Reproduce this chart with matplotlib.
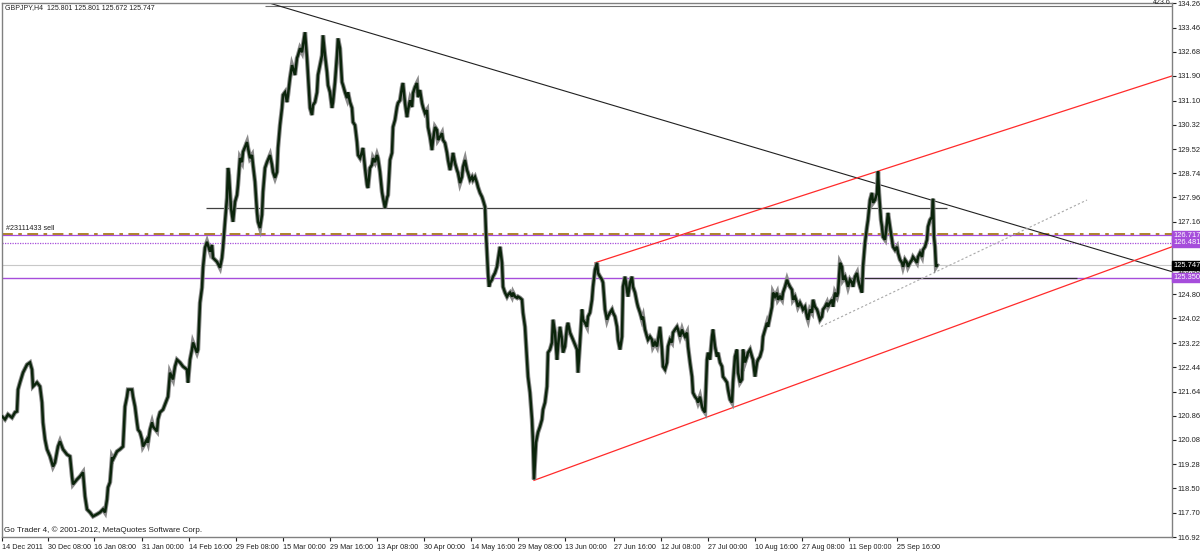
import matplotlib
matplotlib.use("Agg")
import matplotlib.pyplot as plt
import matplotlib.transforms as mtransforms

plt.rcParams['font.family'] = ['Liberation Sans', 'DejaVu Sans']

# ---- price path (time slot, price) ----
bar_x = [
    2, 5, 8, 12, 15, 17, 18, 20, 23, 27, 30, 32, 33, 37, 40, 42, 43, 45, 47, 50,
    53, 55, 58, 60, 63, 67, 70, 72, 73, 77, 80, 83, 85, 87, 90, 93, 97, 100, 103, 105,
    107, 108, 110, 112, 113, 117, 120, 123, 125, 127, 128, 132, 133, 135, 137, 138, 140, 142, 143, 147,
    148, 150, 152, 153, 157, 158, 160, 163, 167, 168, 170, 173, 175, 177, 180, 183, 187, 188, 190, 192,
    193, 197, 198, 200,
    202, 203, 205, 207, 210, 212, 213, 217, 220, 222, 223, 225, 227, 228, 229, 231, 233, 235, 237, 238,
    240, 242, 243, 247, 248, 250, 252, 253, 255, 257, 258, 260, 262, 263, 265, 267, 270, 272, 273, 275,
    277, 278, 280, 282, 283, 285, 287, 288, 290, 292, 293, 295, 297, 298, 300, 302, 303, 305, 307, 308,
    310, 312, 313, 315, 317, 318, 320, 322, 323, 325, 327, 328, 330, 332, 333, 335, 337, 338, 340, 342,
    343, 345, 347, 348, 350, 352, 353, 355, 357, 358, 360, 362, 363, 365, 367, 368, 370, 372, 373, 375,
    377, 378, 380, 382, 383, 385, 387, 388,
    390, 392, 393, 395, 397, 398, 400, 402, 403, 405, 407, 408, 410, 412, 413, 415, 417, 418, 420, 422,
    423, 425, 427, 428, 430, 432, 433, 435, 437, 438, 440, 442, 443, 445, 447, 448, 450, 452, 453, 455,
    457, 458, 460, 462, 463, 465, 467, 468, 470, 472, 473, 475, 477, 478, 480, 482, 483, 485, 486, 487,
    488, 489, 490, 492, 493, 495, 497, 498, 500, 502, 503, 505, 507, 508, 510, 512, 513, 515, 517, 518,
    520, 522, 523, 525, 527, 528, 530, 532, 533, 534, 536, 538, 540, 542, 543, 545, 547, 548, 550, 552,
    553, 555, 557, 558, 560, 562, 563, 565, 567, 568, 570,
    573, 577, 578, 580, 582, 583, 585, 587, 588, 590, 592, 593, 595, 597, 598, 600, 602, 603, 605, 607,
    608, 610, 612, 613, 615, 617, 618, 620, 622, 623, 625, 627, 628, 630, 632, 633, 635, 637, 638, 640,
    642, 643, 645, 647, 648, 650, 652, 653, 655, 657, 658, 660, 662, 663, 665, 667, 668, 670, 672, 673,
    675, 677, 678, 680, 682, 683, 685, 687, 688, 690, 692, 693, 695, 697, 698, 700, 702, 703, 705, 707,
    708, 710, 712, 713, 715, 717, 718, 720, 722, 723, 725, 727, 728, 730, 732, 733, 735, 737, 738, 740,
    742, 743, 745, 747, 748, 750, 752, 753, 755, 757, 758, 760, 762, 763, 765, 767, 768,
    770, 772, 773, 775, 777, 778, 780, 782, 783, 785, 787, 788, 790, 792, 793, 795, 797, 798, 800, 802,
    803, 805, 807, 808, 810, 812, 813, 815, 817, 818, 820, 822, 823, 825, 827, 828, 830, 832, 833, 835,
    837, 838, 840, 842, 843, 845, 847, 848, 850, 852, 853, 855, 857, 858, 860, 862, 863, 865, 867, 868,
    870, 872, 873, 875, 877, 878, 879, 881, 882, 883, 885, 887, 888, 890, 892, 893, 895, 897, 898, 900,
    902, 903, 905, 907, 908, 910, 912, 913, 915, 917, 918, 920, 922, 923, 925, 927, 928, 930, 932, 933,
    934, 935, 936, 937,
]
price = [
    120.84, 120.74, 120.90, 120.80, 120.97, 121.00, 121.71, 121.94, 122.26, 122.52, 122.59, 122.36, 121.81, 121.94, 121.81, 121.29, 120.64, 120.09, 119.77, 119.54,
    119.21, 119.34, 119.86, 120.03, 119.77, 119.60, 119.54, 118.89, 118.63, 118.79, 118.89, 119.02, 118.24, 117.82, 117.72, 117.59, 117.66, 117.72, 117.82, 117.72,
    118.14, 118.53, 118.70, 119.51, 119.44, 119.70, 119.77, 119.86, 121.16, 121.48, 121.71, 121.71, 121.48, 121.16, 120.64, 120.41, 120.32, 120.09, 119.86, 120.09,
    119.99, 120.41, 120.64, 120.51, 120.35, 120.74, 120.97, 121.06, 121.39, 121.48, 122.26, 122.04, 122.46, 122.68, 122.59, 122.46, 122.36, 121.94, 122.68, 123.01,
    123.24, 122.91, 123.01, 124.53,
    125.02, 125.67, 126.32, 126.51, 126.19, 126.41, 125.99, 125.86, 125.67, 125.99, 126.32, 127.16, 127.94, 128.91, 128.68, 127.61, 127.16, 127.81, 128.03, 128.36,
    129.23, 129.10, 129.43, 129.75, 129.56, 129.23, 129.33, 129.01, 128.46, 127.48, 127.16, 126.96, 127.39, 128.13, 128.91, 129.10, 129.33, 129.01, 128.78, 128.59,
    128.78, 129.56, 130.30, 130.86, 131.28, 131.37, 131.05, 131.28, 131.83, 132.25, 132.15, 131.93, 132.48, 132.57, 132.80, 132.67, 132.90, 133.32, 132.48, 131.93,
    130.86, 130.63, 130.95, 131.05, 131.37, 131.93, 132.25, 132.57, 133.22, 132.57, 132.02, 131.60, 131.37, 130.86, 131.05, 131.70, 132.57, 133.12, 132.80, 131.70,
    131.60, 131.37, 131.18, 131.37, 131.05, 130.86, 130.40, 130.30, 129.75, 129.33, 129.23, 129.43, 129.56, 128.91, 128.36, 128.26, 128.91, 129.01, 129.23, 129.10,
    129.33, 129.23, 128.78, 128.13, 127.94, 127.61, 127.94, 128.03,
    129.17, 129.40, 130.24, 130.47, 130.89, 131.02, 131.11, 131.54, 131.67, 131.02, 130.56, 130.79, 131.11, 130.89, 131.34, 131.54, 131.67, 131.21, 131.44, 131.02,
    130.89, 130.69, 130.79, 130.24, 129.92, 129.49, 129.82, 130.24, 130.14, 129.82, 129.92, 130.04, 129.82, 129.72, 129.40, 129.17, 128.84, 129.17, 129.40, 129.07,
    128.84, 128.75, 128.42, 128.62, 128.94, 129.17, 128.84, 128.75, 128.52, 128.62, 128.52, 128.62, 128.42, 128.29, 128.10, 127.97, 127.87, 127.65, 126.80, 126.15,
    125.50, 125.05, 125.18, 125.28, 125.38, 125.50, 125.70, 125.93, 126.35, 125.83, 125.05, 124.86, 124.73, 124.79, 124.86, 124.73, 124.86, 124.73, 124.69, 124.73,
    124.69, 124.63, 124.21, 123.75, 122.68, 122.13, 121.61, 120.74, 119.99, 118.79, 119.99, 120.32, 120.51, 120.74, 121.06, 121.29, 121.81, 122.91, 123.01, 123.24,
    123.98, 123.56, 122.68, 123.11, 123.75, 123.33, 122.91, 123.11, 123.75, 123.88, 123.56,
    123.33, 123.01, 122.26, 123.24, 124.31, 123.98, 123.88, 123.75, 124.08, 124.21, 124.63, 125.05, 125.60, 125.83, 125.50, 125.38, 125.28, 125.18, 124.31, 123.98,
    124.08, 124.21, 124.31, 124.21, 124.08, 123.75, 123.33, 123.01, 123.43, 125.05, 125.38, 124.95, 124.73, 125.18, 125.38, 125.05, 124.86, 124.53, 124.40, 124.21,
    123.98, 124.08, 123.66, 123.43, 123.33, 123.43, 123.33, 123.11, 123.24, 123.11, 123.33, 123.75, 123.01, 122.46, 122.36, 122.59, 123.11, 123.33, 123.24, 123.56,
    123.66, 123.75, 123.66, 123.43, 123.66, 123.56, 123.43, 123.56, 123.11, 122.59, 122.13, 121.61, 121.48, 121.39, 121.29, 121.48, 121.16, 121.06, 120.97, 122.68,
    122.91, 122.68, 123.43, 123.66, 123.11, 122.78, 122.91, 122.59, 122.46, 122.13, 122.04, 121.94, 121.71, 121.39, 121.29, 121.94, 122.78, 123.01, 122.26, 121.94,
    122.04, 123.01, 122.59, 122.78, 122.91, 123.01, 122.78, 122.68, 122.13, 122.59, 122.68, 122.78, 123.01, 123.43, 123.66, 123.88, 123.75,
    124.08, 124.40, 124.86, 124.73, 124.86, 124.63, 124.73, 124.63, 124.86, 125.05, 125.28, 125.18, 125.05, 124.95, 124.63, 124.73, 124.53, 124.40, 124.53, 124.40,
    124.31, 124.40, 124.08, 123.98, 124.31, 124.21, 124.63, 124.40, 124.31, 124.21, 123.98, 124.08, 124.31, 124.40, 124.53, 124.40, 124.53, 124.63, 124.40, 124.86,
    124.73, 124.86, 125.83, 125.70, 125.28, 125.38, 125.18, 125.05, 125.28, 125.18, 125.05, 125.38, 125.50, 125.28, 125.05, 124.86, 125.70, 126.48, 127.00, 127.22,
    127.87, 128.10, 127.78, 127.87, 128.10, 128.80, 128.10, 127.22, 127.00, 126.67, 126.58, 127.13, 127.45, 127.00, 126.58, 126.35, 126.25, 126.35, 126.15, 125.93,
    125.83, 125.70, 125.93, 125.83, 125.70, 125.83, 125.93, 126.02, 125.93, 125.83, 126.02, 126.15, 126.02, 126.25, 126.35, 126.58, 127.00, 127.22, 127.32, 127.91,
    126.67, 126.35, 125.70, 125.75,
]

# price scale on the right
y_ticks = [134.260, 133.460, 132.680, 131.900, 131.100, 130.320, 129.520, 128.740, 127.960,
           127.160, 126.380, 125.580, 124.800, 124.020, 123.220, 122.440, 121.640, 120.860,
           120.080, 119.280, 118.500, 117.700, 116.920]

# time scale
x_tick_pos = [2, 48, 94, 142, 189, 236, 283, 330, 377, 424, 471, 518, 565,
              614, 661, 708, 755, 802, 849, 897]
x_tick_labels = ["14 Dec 2011", "30 Dec 08:00", "16 Jan 08:00", "31 Jan 00:00", "14 Feb 16:00",
                 "29 Feb 08:00", "15 Mar 00:00", "29 Mar 16:00", "13 Apr 08:00", "30 Apr 00:00",
                 "14 May 16:00", "29 May 08:00", "13 Jun 00:00", "27 Jun 16:00", "12 Jul 08:00",
                 "27 Jul 00:00", "10 Aug 16:00", "27 Aug 08:00", "11 Sep 00:00", "25 Sep 16:00"]

# drawn objects: (x0, p0, x1, p1)
trend_down = (265, 134.31, 1172, 125.54)
channel_up = (595, 125.83, 1172, 131.90)
channel_low = (534, 118.76, 1172, 126.35)
support_dash = (821, 123.76, 1087, 127.87)
resist_hline = (206, 127.61, 947)
base_hline = (840, 125.35, 1077)
fibo_top = (265, 134.17, 1172)

order_price = 126.75
level_a = 126.717
level_b = 126.481
bid = 125.747
level_c = 125.350

W, H = 1200, 553
fig = plt.figure(figsize=(W / 100, H / 100), dpi=100, facecolor='white')
ax = fig.add_axes([2 / W, 1 - 537 / H, 1170 / W, 534 / H])
ax.set_xlim(2, 1172)
ax.set_ylim(116.93, 134.27)

purple = '#a64ddb'

# horizontal levels
ax.axhline(bid, color='#c8c8c8', lw=0.8, zorder=1)
ax.axhline(level_a, color=purple, lw=0.9, zorder=1)
ax.axhline(level_b, color=purple, lw=0.9, ls=(0, (1, 1)), zorder=1)
ax.axhline(level_c, color=purple, lw=1.0, zorder=1)
ax.axhline(order_price, color='#a87a1c', lw=1.3, ls=(0, (6, 3, 2, 3)), zorder=1)
ax.hlines(resist_hline[1], resist_hline[0], resist_hline[2], color='#404040', lw=0.9, zorder=1)
ax.hlines(base_hline[1], base_hline[0], base_hline[2], color='#303030', lw=0.9, zorder=1)
ax.hlines(fibo_top[1], fibo_top[0], fibo_top[2], color='#707070', lw=0.8, zorder=1)

# trend lines
ax.plot(trend_down[::2], trend_down[1::2], color='#202020', lw=0.8, zorder=2)
ax.plot(channel_up[::2], channel_up[1::2], color='#ff2a2a', lw=0.9, zorder=2)
ax.plot(channel_low[::2], channel_low[1::2], color='#ff2a2a', lw=0.9, zorder=2)
ax.plot(support_dash[::2], support_dash[1::2], color='#a8a8a8', lw=0.8, ls=(0, (2, 2)), zorder=2)

# price bars
ax.plot(bar_x, price, color='#8c8c8c', lw=3.2, solid_joinstyle='miter', zorder=3)
ax.plot(bar_x, price, color='#0b240b', lw=1.8, solid_joinstyle='miter', zorder=4)

# axes styling
for side in ['left', 'top', 'bottom', 'right']:
    ax.spines[side].set_color('#808080')
    ax.spines[side].set_linewidth(1.0)
ax.yaxis.tick_right()
ax.set_yticks(y_ticks)
ax.set_yticklabels(['%.3f' % v for v in y_ticks])
ax.tick_params(axis='y', length=3, width=0.8, pad=1, labelsize=5.4, colors='#202020')
ax.set_xticks(x_tick_pos)
ax.set_xticklabels(x_tick_labels, ha='left')
ax.tick_params(axis='x', length=3, width=0.8, pad=2, labelsize=5.2, colors='#202020')

# price tags on the scale
trans = mtransforms.blended_transform_factory(ax.transAxes, ax.transData)
for val, col in [(level_a, purple), (level_b, purple), (bid, '#000000'), (level_c, purple)]:
    ax.text(1.001, val, '%.3f' % val, transform=trans, fontsize=5.4, color='white',
            ha='left', va='center', zorder=10, clip_on=False,
            bbox=dict(boxstyle='square,pad=0.15', fc=col, ec=col))

# texts
fig.text(5 / W, 1 - 8 / H, 'GBPJPY,H4  125.801 125.801 125.672 125.747', fontsize=5.0,
         color='#202020', va='center', ha='left')
fig.text(4 / W, 1 - 530 / H, 'Go Trader 4, © 2001-2012, MetaQuotes Software Corp.', fontsize=5.8,
         color='#202020', va='center', ha='left')
fig.text(6 / W, 1 - 229 / H, '#23111433 sell', fontsize=5.2, color='#202020', va='center', ha='left')
fig.text(1153 / W, 1 - 3 / H, '423.6', fontsize=5.0, color='#202020', va='center', ha='left')

fig.savefig('out.png', dpi=100, facecolor='white')
